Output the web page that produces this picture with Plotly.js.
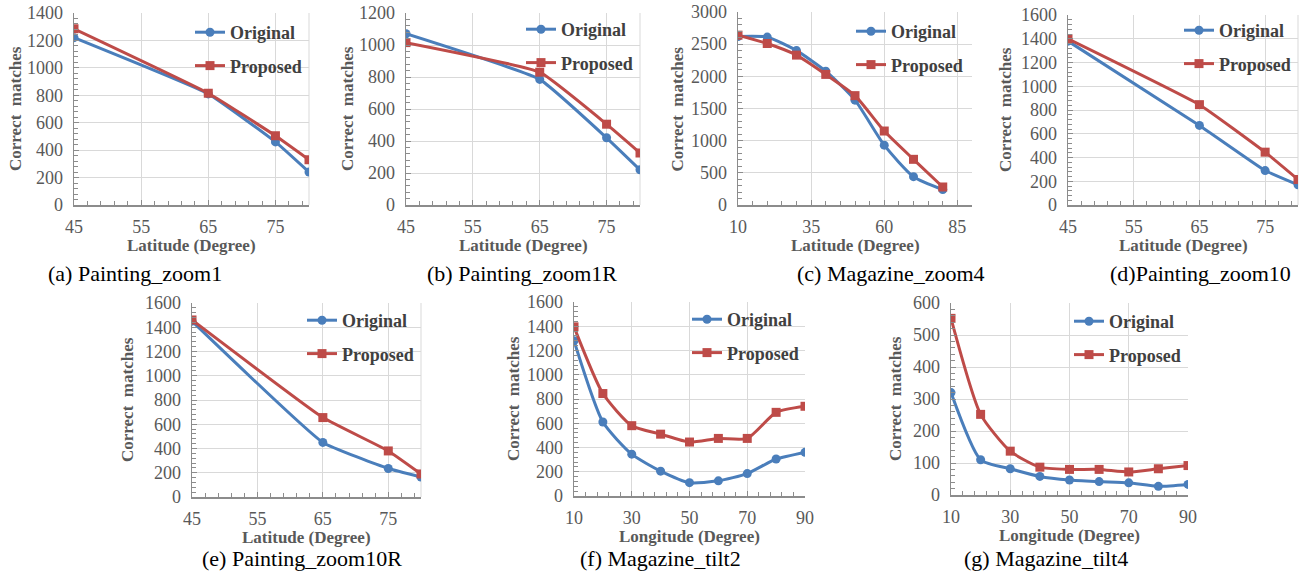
<!DOCTYPE html>
<html>
<head>
<meta charset="utf-8">
<script src="https://cdn.plot.ly/plotly-3.0.1.min.js"></script>
<style>html,body{margin:0;padding:0;background:#fff;}#chart{width:1316px;height:581px;}</style>
</head>
<body>
<div id="chart"></div>
<script>
// ---------- data ----------
const latitude = [45, 65, 75, 80];
const latitudeC = [10, 20, 30, 40, 50, 60, 70, 80];
const longitude = [10, 20, 30, 40, 50, 60, 70, 80, 90];

const originalA = [1220, 810, 460, 240];
const proposedA = [1285, 815, 505, 330];
const originalB = [1070, 785, 420, 220];
const proposedB = [1015, 830, 505, 325];
const originalC = [2620, 2610, 2400, 2080, 1630, 930, 440, 240];
const proposedC = [2640, 2510, 2330, 2030, 1700, 1150, 710, 280];
const originalD = [1380, 670, 290, 170];
const proposedD = [1400, 845, 445, 215];
const originalE = [1450, 450, 235, 165];
const proposedE = [1460, 655, 380, 190];
const originalF = [1280, 610, 345, 205, 110, 125, 185, 305, 360];
const proposedF = [1395, 845, 580, 510, 445, 475, 475, 690, 740];
const originalG = [320, 110, 82, 58, 47, 42, 38, 27, 33];
const proposedG = [552, 252, 137, 87, 80, 80, 72, 82, 92];

const seriesNames = ['Original', 'Proposed'];
const yTitle = 'Correct\u00a0 matches';
const latTitle = 'Latitude (Degree)';
const lonTitle = 'Longitude (Degree)';
const captions = ['(a) Painting_zoom1', '(b) Painting_zoom1R', '(c) Magazine_zoom4', '(d)Painting_zoom10',
                  '(e) Painting_zoom10R', '(f) Magazine_tilt2', '(g) Magazine_tilt4'];

// ---------- layout config (pixel boxes) ----------
const W = 1316, H = 581;
const panels = [
  {x: latitude,  o: originalA, p: proposedA, xr: [45, 80], xt0: 45, xd: 10, xm: 2, yr: [0, 1400], yd: 200, ym: 40, L: 74,  R: 309, T: 13,  B: 205, xtitle: latTitle, ytx: 15,  capx: 135,  capy: 274, legx: 190,  legy: 14, edge: true},
  {x: latitude,  o: originalB, p: proposedB, xr: [45, 80], xt0: 45, xd: 10, xm: 2, yr: [0, 1200], yd: 200, ym: 40, L: 406, R: 640, T: 13,  B: 205, xtitle: latTitle, ytx: 347, capx: 522,  capy: 274, legx: 521,  legy: 11, edge: true},
  {x: latitudeC, o: originalC, p: proposedC, xr: [10, 90], xt0: 10, xd: 25, xm: 5, yr: [0, 3000], yd: 500, ym: 100, L: 738, R: 972, T: 12, B: 205, xtitle: latTitle, ytx: 677, capx: 891,  capy: 274, legx: 851,  legy: 13, edge: false},
  {x: latitude,  o: originalD, p: proposedD, xr: [45, 80], xt0: 45, xd: 10, xm: 2, yr: [0, 1600], yd: 200, ym: 40, L: 1068, R: 1298, T: 15, B: 205, xtitle: latTitle, ytx: 1005, capx: 1200, capy: 274, legx: 1179, legy: 12, edge: true},
  {x: latitude,  o: originalE, p: proposedE, xr: [45, 80], xt0: 45, xd: 10, xm: 2, yr: [0, 1600], yd: 200, ym: 40, L: 192, R: 421, T: 303, B: 497, xtitle: latTitle, ytx: 127, capx: 302,  capy: 558, legx: 302,  legy: 302, edge: true},
  {x: longitude, o: originalF, p: proposedF, xr: [10, 90], xt0: 10, xd: 20, xm: 4, yr: [0, 1600], yd: 200, ym: 40, L: 574, R: 805, T: 302, B: 496, xtitle: lonTitle, ytx: 513, capx: 660,  capy: 558, legx: 687,  legy: 301, edge: false},
  {x: longitude, o: originalG, p: proposedG, xr: [10, 90], xt0: 10, xd: 20, xm: 4, yr: [0, 600],  yd: 100, ym: 20, L: 951, R: 1188, T: 303, B: 495, xtitle: lonTitle, ytx: 895, capx: 1046, capy: 558, legx: 1069, legy: 303, edge: false}
];

const BLUE = '#4a7ebb', RED = '#be4b48';
const GRID = '#d9d9d9', AXIS = '#8c8c8c', TICKTXT = '#595959';
const serif = 'Liberation Serif';

const traces = [];
const layout = {
  width: W, height: H,
  margin: {l: 0, r: 0, t: 0, b: 0},
  paper_bgcolor: '#ffffff', plot_bgcolor: '#ffffff',
  font: {family: serif},
  showlegend: true,
  annotations: [], shapes: []
};

panels.forEach((pn, i) => {
  const n = i + 1;
  const xa = n === 1 ? 'x' : 'x' + n;
  const ya = n === 1 ? 'y' : 'y' + n;
  const xk = n === 1 ? 'xaxis' : 'xaxis' + n;
  const yk = n === 1 ? 'yaxis' : 'yaxis' + n;
  const lg = n === 1 ? 'legend' : 'legend' + n;
  const sm = pn.x.length > 5 ? 0.6 : 0.35;

  traces.push({
    type: 'scatter', mode: 'lines+markers', x: pn.x, y: pn.o, xaxis: xa, yaxis: ya,
    name: seriesNames[0], legend: lg, legendgroup: 'o' + n,
    line: {color: BLUE, width: 3, shape: 'spline', smoothing: sm},
    marker: {symbol: 'circle', size: 9, color: BLUE}
  });
  traces.push({
    type: 'scatter', mode: 'lines+markers', x: pn.x, y: pn.p, xaxis: xa, yaxis: ya,
    name: seriesNames[1], legend: lg, legendgroup: 'p' + n,
    line: {color: RED, width: 3, shape: 'spline', smoothing: sm},
    marker: {symbol: 'square', size: 9, color: RED}
  });

  layout[xk] = {
    domain: [pn.L / W, pn.R / W], anchor: ya, range: pn.xr,
    tick0: pn.xt0, dtick: pn.xd, tickmode: 'linear',
    showgrid: true, gridcolor: GRID, gridwidth: 1, zeroline: false,
    showline: true, linecolor: AXIS, linewidth: 1.5,
    ticks: 'inside', ticklen: 5, tickcolor: AXIS,
    minor: {dtick: pn.xm, tick0: pn.xt0, ticks: 'inside', ticklen: 4, tickcolor: AXIS, showgrid: false},
    tickfont: {family: serif, size: 18, color: TICKTXT},
    ticklabelstandoff: 5, fixedrange: true
  };
  layout[yk] = {
    domain: [1 - pn.B / H, 1 - pn.T / H], anchor: xa, range: pn.yr,
    tick0: 0, dtick: pn.yd, tickmode: 'linear',
    showgrid: true, gridcolor: GRID, gridwidth: 1, zeroline: false,
    showline: true, linecolor: AXIS, linewidth: 1.5,
    ticks: 'inside', ticklen: 5, tickcolor: AXIS,
    minor: {dtick: pn.ym, tick0: 0, ticks: 'inside', ticklen: 4, tickcolor: AXIS, showgrid: false},
    tickfont: {family: serif, size: 18, color: TICKTXT},
    ticklabelstandoff: 6, fixedrange: true
  };

  layout[lg] = {
    x: pn.legx / W, y: 1 - pn.legy / H, xanchor: 'left', yanchor: 'top',
    xref: 'paper', yref: 'paper',
    bgcolor: 'rgba(0,0,0,0)', borderwidth: 0,
    font: {family: serif, size: 18, color: '#404040', weight: 'bold'},
    traceorder: 'grouped', tracegroupgap: 7, itemclick: false, itemdoubleclick: false
  };

  if (pn.edge) {
    layout.shapes.push({type: 'line', xref: xa + ' domain', yref: ya + ' domain',
      x0: 1, x1: 1, y0: 0, y1: 1, line: {color: GRID, width: 1}, layer: 'below'});
  }

  // axis titles
  layout.annotations.push({
    text: pn.xtitle, xref: 'paper', yref: 'paper',
    x: ((pn.L + pn.R) / 2) / W, y: 1 - (pn.B + 40) / H, xanchor: 'center', yanchor: 'middle',
    showarrow: false, font: {family: serif, size: 17, color: TICKTXT, weight: 'bold'}
  });
  layout.annotations.push({
    text: yTitle, xref: 'paper', yref: 'paper', textangle: -90,
    x: pn.ytx / W, y: 1 - ((pn.T + pn.B) / 2) / H, xanchor: 'center', yanchor: 'middle',
    showarrow: false, font: {family: serif, size: 17, color: TICKTXT, weight: 'bold'}
  });
  // caption
  layout.annotations.push({
    text: captions[i], xref: 'paper', yref: 'paper',
    x: pn.capx / W, y: 1 - pn.capy / H, xanchor: 'center', yanchor: 'middle',
    showarrow: false, font: {family: serif, size: 22, color: '#000000'}
  });
});

Plotly.newPlot('chart', traces, layout, {displayModeBar: false, staticPlot: true});
</script>
</body>
</html>
